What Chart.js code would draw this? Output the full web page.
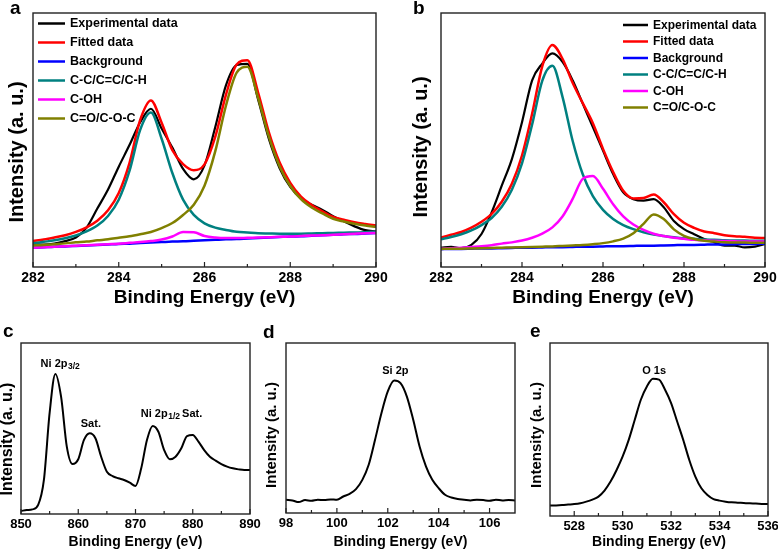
<!DOCTYPE html>
<html>
<head>
<meta charset="utf-8">
<script src="https://cdn.jsdelivr.net/npm/chart.js@4.4.1/dist/chart.umd.min.js"></script>
<style>
  body { margin: 0; width: 778px; height: 552px; background: #fff; position: relative; overflow: hidden;
         font-family: "Liberation Sans", Arial, sans-serif; }
  canvas { position: absolute; }
  .tag { position: absolute; font-weight: bold; font-size: 19px; line-height: 1; color: #000; }
</style>
</head>
<body>
<canvas id="ca" style="left:0;top:0;width:388px;height:312px" width="388" height="312"></canvas>
<canvas id="cb" style="left:388px;top:0;width:390px;height:312px" width="390" height="312"></canvas>
<canvas id="cc" style="left:0;top:318px;width:262px;height:234px" width="262" height="234"></canvas>
<canvas id="cd" style="left:262px;top:318px;width:260px;height:234px" width="260" height="234"></canvas>
<canvas id="ce" style="left:522px;top:318px;width:256px;height:234px" width="256" height="234"></canvas>
<div class="tag" style="left:10px;top:-2px">a</div>
<div class="tag" style="left:413px;top:-2px">b</div>
<div class="tag" style="left:3px;top:321px">c</div>
<div class="tag" style="left:263px;top:322px">d</div>
<div class="tag" style="left:530px;top:321px">e</div>
<script>
// ---- data (intensity in arbitrary units, 0-100 of the plot height) ----
const energyAB = [282, 282.25, 282.5, 282.75, 283, 283.25, 283.5, 283.75, 284, 284.25, 284.5, 284.75,
  285, 285.25, 285.5, 285.75, 286, 286.25, 286.5, 286.75, 287, 287.25, 287.5, 287.75,
  288, 288.25, 288.5, 288.75, 289, 289.25, 289.5, 289.75, 290];

const expA = [9.0, 8.8, 9.2, 10.2, 11.6, 15.5, 23.0, 30.5, 39.5, 48.0, 57.0, 62.3, 54.5, 47.0, 38.6, 34.5,
  40.0, 55.0, 71.5, 79.5, 80.0, 66.0, 50.5, 39.0, 31.5, 27.0, 24.5, 22.5, 20.0, 18.0, 16.0, 14.5, 14.0];
const fitA = [10.2, 10.8, 11.6, 12.5, 13.8, 15.6, 18.2, 22.3, 29.1, 40.9, 57.9, 65.6, 56.8, 46.0, 40.5, 38.1,
  40.4, 51.2, 67.8, 79.7, 81.4, 68.7, 53.1, 41.2, 33.1, 27.7, 24.4, 21.9, 19.7, 18.6, 17.6, 16.9, 16.3];
const bgA = [7.6, 7.8, 8.0, 8.1, 8.3, 8.5, 8.7, 8.9, 9.1, 9.2, 9.4, 9.6, 9.8, 10.0, 10.1, 10.3,
  10.5, 10.7, 10.9, 11.0, 11.2, 11.4, 11.6, 11.8, 12.0, 12.1, 12.3, 12.5, 12.7, 12.9, 13.0, 13.2, 13.4];
const ccA = [9.3, 9.9, 10.5, 11.3, 12.4, 14.0, 16.3, 20.1, 26.5, 37.8, 54.0, 60.8, 50.5, 37.0, 26.5, 20.5,
  17.2, 15.5, 14.6, 13.9, 13.6, 13.3, 13.2, 13.1, 13.1, 13.1, 13.2, 13.3, 13.4, 13.5, 13.6, 13.7, 13.9];
const ohA = [7.6, 7.8, 8.0, 8.2, 8.4, 8.6, 8.8, 9.0, 9.2, 9.5, 9.8, 10.2, 10.8, 12.0, 13.8, 13.7,
  12.2, 11.6, 11.4, 11.4, 11.5, 11.6, 11.7, 11.9, 12.0, 12.2, 12.4, 12.5, 12.7, 12.9, 13.1, 13.3, 13.4];
const coA = [8.5, 8.7, 9.0, 9.3, 9.7, 10.0, 10.5, 10.9, 11.5, 12.1, 12.9, 13.8, 15.3, 17.3, 20.5, 24.5,
  32.0, 45.5, 63.5, 76.5, 78.8, 66.6, 51.4, 39.7, 31.9, 26.7, 23.4, 21.1, 19.0, 17.9, 17.0, 16.3, 15.8];

const expB = [7.6, 7.9, 7.4, 8.7, 13.0, 21.5, 32.0, 42.5, 57.0, 73.5, 80.1, 84.1, 80.8, 73.5, 64.3, 55.1,
  45.8, 36.6, 29.4, 26.7, 26.1, 26.7, 23.5, 18.1, 14.9, 12.9, 11.0, 9.7, 8.4, 8.4, 7.7, 8.0, 9.0];
const fitB = [11.6, 12.7, 13.8, 15.5, 17.8, 20.9, 25.7, 32.8, 43.9, 60.3, 79.0, 87.4, 82.0, 72.5, 64.5, 56.6,
  46.5, 37.4, 30.0, 27.0, 27.2, 28.5, 25.5, 20.8, 17.4, 15.4, 14.0, 13.3, 12.5, 12.1, 11.9, 11.5, 11.4];
const bgB = [7.0, 7.1, 7.1, 7.2, 7.3, 7.3, 7.4, 7.5, 7.6, 7.6, 7.7, 7.8, 7.8, 7.9, 8.0, 8.0,
  8.1, 8.2, 8.2, 8.3, 8.4, 8.4, 8.5, 8.6, 8.7, 8.7, 8.8, 8.9, 8.9, 9.0, 9.1, 9.1, 9.2];
const ccB = [10.9, 11.8, 12.9, 14.4, 16.5, 19.3, 23.7, 30.4, 40.8, 56.1, 73.3, 79.2, 67.0, 49.7, 36.5, 27.9,
  22.5, 18.9, 16.5, 14.9, 13.7, 12.8, 12.2, 11.7, 11.3, 11.1, 10.8, 10.7, 10.5, 10.4, 10.4, 10.3, 10.3];
const ohB = [7.2, 7.4, 7.6, 7.9, 8.2, 8.6, 9.2, 9.7, 10.4, 11.5, 13.1, 15.6, 19.9, 26.8, 34.7, 35.8,
  30.8, 24.7, 19.9, 16.7, 14.6, 13.1, 12.2, 11.5, 11.1, 10.7, 10.5, 10.3, 10.2, 10.1, 10.0, 10.0, 10.0];
const coB = [7.1, 7.2, 7.2, 7.3, 7.4, 7.5, 7.6, 7.7, 7.8, 7.9, 8.0, 8.1, 8.3, 8.5, 8.7, 9.0,
  9.4, 10.1, 11.2, 13.3, 17.0, 20.7, 18.9, 14.8, 12.3, 11.0, 10.3, 10.0, 9.7, 9.6, 9.6, 9.5, 9.5];

const energyC = [850, 851, 852, 853, 854, 855, 856, 857, 858, 859, 860, 861, 862, 863, 864, 865, 866, 867,
  868, 869, 870, 871, 872, 873, 874, 875, 876, 877, 878, 879, 880, 881, 882, 883, 884, 885, 886, 887, 888, 889, 890];
const niC = [1.8, 2.3, 2.7, 5.3, 19.9, 59.1, 81.9, 68.6, 39.4, 29.2, 32.0, 43.3, 47.2, 44.3, 33.5, 24.7, 22.2, 20.9,
  19.9, 18.3, 16.4, 26.7, 43.3, 51.5, 48.1, 37.4, 32.0, 33.5, 38.4, 45.6, 46.2, 42.3, 37.4, 33.5, 31.2, 29.2, 27.7,
  26.7, 26.1, 25.7, 25.7];

const energyD = [98, 98.25, 98.5, 98.75, 99, 99.25, 99.5, 99.75, 100, 100.25, 100.5, 100.75, 101, 101.25, 101.5,
  101.75, 102, 102.25, 102.5, 102.75, 103, 103.25, 103.5, 103.75, 104, 104.25, 104.5, 104.75, 105, 105.25, 105.5,
  105.75, 106, 106.25, 106.5, 106.75, 107];
const siD = [7.8, 7.4, 6.4, 7.6, 7.2, 7.8, 7.6, 8.0, 7.8, 9.7, 11.3, 14.0, 19.5, 28.4, 43.1, 58.7, 71.5, 77.9, 76.4,
  68.5, 54.8, 39.1, 27.4, 19.5, 14.6, 10.7, 9.1, 8.2, 7.8, 7.4, 7.8, 7.6, 7.2, 7.8, 7.4, 7.6, 7.4];

const energyE = [527, 527.25, 527.5, 527.75, 528, 528.25, 528.5, 528.75, 529, 529.25, 529.5, 529.75, 530, 530.25,
  530.5, 530.75, 531, 531.25, 531.5, 531.75, 532, 532.25, 532.5, 532.75, 533, 533.25, 533.5, 533.75, 534, 534.25,
  534.5, 534.75, 535, 535.25, 535.5, 535.75, 536];
const oE = [6.0, 6.1, 6.3, 6.6, 6.9, 7.4, 8.3, 9.5, 11.2, 14.7, 19.9, 26.6, 34.4, 44.0, 55.6, 67.2, 74.9, 79.3, 78.8,
  73.0, 65.3, 54.6, 44.0, 32.4, 22.8, 16.0, 12.2, 9.8, 8.9, 8.3, 7.9, 7.7, 7.5, 7.3, 7.2, 7.0, 6.9];

const ticksAB = [282, 284, 286, 288, 290];
const ticksC = [850, 860, 870, 880, 890];
const ticksD = [98, 100, 102, 104, 106];
const ticksE = [528, 530, 532, 534, 536];

const fitLabels = ['Experimental data', 'Fitted data', 'Background', 'C-C/C=C/C-H', 'C-OH', 'C=O/C-O-C'];
const fitColors = ['#000000', '#ff0000', '#0000ff', '#008080', '#ff00ff', '#808000'];

// ---- helpers ----
const FONT = '"Liberation Sans", Arial, sans-serif';

function line(label, xs, ys, color, width, tension, order) {
  return {
    label: label,
    data: xs.map((x, i) => ({ x: x, y: ys[i] })),
    borderColor: color,
    borderWidth: width,
    pointRadius: 0,
    fill: false,
    tension: tension,
    cubicInterpolationMode: 'monotone',
    order: order
  };
}

const deco = {
  id: 'deco',
  afterDraw(chart, args, o) {
    const ctx = chart.ctx, a = chart.chartArea, x = chart.scales.x;
    ctx.save();
    // frame
    ctx.strokeStyle = '#222';
    ctx.lineWidth = 1.4;
    ctx.strokeRect(a.left, a.top, a.right - a.left, a.bottom - a.top);
    // inward ticks on the bottom axis
    const major = o.ticks;
    const minor = major.slice(1).map((v, i) => (v + major[i]) / 2);
    ctx.lineWidth = 1.2;
    ctx.beginPath();
    major.forEach(v => { const p = x.getPixelForValue(v); ctx.moveTo(p, a.bottom); ctx.lineTo(p, a.bottom - 5); });
    minor.forEach(v => { const p = x.getPixelForValue(v); ctx.moveTo(p, a.bottom); ctx.lineTo(p, a.bottom - 3); });
    ctx.stroke();
    // y title
    ctx.fillStyle = '#000';
    ctx.save();
    ctx.translate(o.yt[0], o.yt[1]);
    ctx.rotate(-Math.PI / 2);
    ctx.font = 'bold ' + o.yt[2] + 'px ' + FONT;
    ctx.textAlign = 'center';
    ctx.textBaseline = 'middle';
    ctx.fillText('Intensity (a. u.)', 0, 0);
    ctx.restore();
    // legend (canvas coordinates)
    if (o.legend) {
      const L = o.legend;
      ctx.font = 'bold ' + L.size + 'px ' + FONT;
      ctx.textBaseline = 'middle';
      ctx.textAlign = 'left';
      chart.data.datasets.forEach((d, i) => {
        const yy = L.y + i * L.dy;
        ctx.strokeStyle = d.borderColor;
        ctx.lineWidth = 2.5;
        ctx.beginPath();
        ctx.moveTo(L.x, yy);
        ctx.lineTo(L.x + L.len, yy);
        ctx.stroke();
        ctx.fillText(d.label, L.x + L.len + 5, yy + 0.5);
      });
    }
    // peak labels
    (o.notes || []).forEach(n => {
      const px = x.getPixelForValue(n.x), py = chart.scales.y.getPixelForValue(n.y);
      ctx.textBaseline = 'alphabetic';
      ctx.textAlign = 'left';
      ctx.font = 'bold 11px ' + FONT;
      const w1 = ctx.measureText(n.text).width;
      ctx.font = 'bold 8.5px ' + FONT;
      const w2 = n.sub ? ctx.measureText(n.sub).width : 0;
      const x0 = px - (w1 + w2) / 2;
      ctx.font = 'bold 11px ' + FONT;
      ctx.fillText(n.text, x0, py + 4);
      if (n.sub) {
        ctx.font = 'bold 8.5px ' + FONT;
        ctx.fillText(n.sub, x0 + w1 + 0.5, py + 5.5);
      }
    });
    ctx.restore();
  }
};

function panel(id, cfg) {
  return new Chart(document.getElementById(id), {
    type: 'line',
    data: { datasets: cfg.sets },
    options: {
      responsive: false,
      animation: false,
      events: [],
      layout: { padding: cfg.pad },
      plugins: { legend: { display: false }, tooltip: { enabled: false }, deco: cfg.deco },
      scales: {
        x: {
          type: 'linear', min: cfg.min, max: cfg.max,
          grid: { display: false, drawTicks: false },
          border: { display: false },
          afterBuildTicks: s => { s.ticks = cfg.deco.ticks.map(v => ({ value: v })); },
          afterFit: s => { s.height = cfg.xh; s.paddingLeft = 0; s.paddingRight = 0; },
          ticks: { padding: cfg.tp, color: '#000', maxRotation: 0, autoSkip: false,
                   font: { family: FONT, weight: 'bold', size: cfg.tick } },
          title: { display: true, text: 'Binding Energy (eV)', color: '#000',
                   font: { family: FONT, weight: 'bold', size: cfg.title },
                   padding: { top: 0, bottom: cfg.tb } }
        },
        y: {
          min: 0, max: 100,
          grid: { display: false, drawTicks: false },
          border: { display: false },
          ticks: { display: false },
          afterFit: s => { s.width = cfg.yw; }
        }
      }
    },
    plugins: [deco]
  });
}

function fitSets(xs, series) {
  return series.map((ys, i) => line(fitLabels[i], xs, ys, fitColors[i], i === 0 ? 2.2 : 2.5, i === 0 ? 0.25 : 0.4, 6 - i));
}

panel('ca', {
  sets: fitSets(energyAB, [expA, fitA, bgA, ccA, ohA, coA]),
  min: 282, max: 290, pad: { top: 13, right: 12, left: 0, bottom: 0 }, yw: 33, xh: 45,
  tick: 14, tp: 3, title: 19, tb: 3,
  deco: { ticks: ticksAB, yt: [17, 152, 20], legend: { x: 38, y: 23.5, dy: 19, len: 27, size: 12.5 } }
});

panel('cb', {
  sets: fitSets(energyAB, [expB, fitB, bgB, ccB, ohB, coB]),
  min: 282, max: 290, pad: { top: 13, right: 13, left: 0, bottom: 0 }, yw: 53, xh: 45,
  tick: 14, tp: 3, title: 19, tb: 3,
  deco: { ticks: ticksAB, yt: [33, 147, 20], legend: { x: 235, y: 25, dy: 16.5, len: 25, size: 12 } }
});

panel('cc', {
  sets: [line('Ni 2p', energyC, niC, '#000', 2, 0.3, 1)],
  min: 850, max: 890, pad: { top: 25, right: 12, left: 0, bottom: 0 }, yw: 21, xh: 38,
  tick: 13, tp: 3, title: 14, tb: 1,
  deco: { ticks: ticksC, yt: [8, 121, 16],
          notes: [{ text: 'Ni 2p', sub: '3/2', x: 856.8, y: 88.3 }, { text: 'Sat.', x: 862.2, y: 53.2 },
                  { text: 'Ni 2p', sub: '1/2', x: 874.3, y: 59 }, { text: 'Sat.', x: 879.9, y: 59 }] }
});

panel('cd', {
  sets: [line('Si 2p', energyD, siD, '#000', 2, 0.3, 1)],
  min: 98, max: 107, pad: { top: 25, right: 7, left: 0, bottom: 0 }, yw: 24, xh: 39,
  tick: 13, tp: 3, title: 14, tb: 1,
  deco: { ticks: ticksD, yt: [10, 117, 15], notes: [{ text: 'Si 2p', x: 102.3, y: 84.1 }] }
});

panel('ce', {
  sets: [line('O 1s', energyE, oE, '#000', 2, 0.3, 1)],
  min: 527, max: 536, pad: { top: 25, right: 10, left: 0, bottom: 0 }, yw: 28, xh: 36,
  tick: 13, tp: 3, title: 14, tb: 1,
  deco: { ticks: ticksE, yt: [15, 117, 15], notes: [{ text: 'O 1s', x: 531.3, y: 84.5 }] }
});
</script>
</body>
</html>
